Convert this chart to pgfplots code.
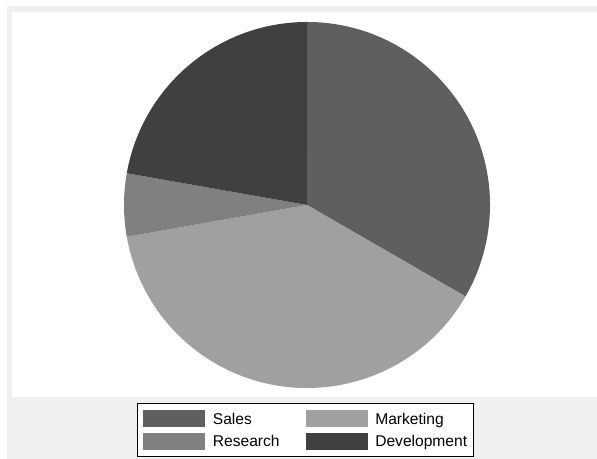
\documentclass[border=0pt]{standalone}
\usepackage{pgfplots}
\pgfplotsset{compat=1.18}
\usepackage{pgfplotstable}
\usepackage{fontspec}
\setmainfont{Liberation Sans}
\definecolor{bgGray}{RGB}{240,240,240}
\definecolor{pie0}{RGB}{95,95,95}
\definecolor{pie1}{RGB}{160,160,160}
\definecolor{pie2}{RGB}{128,128,128}
\definecolor{pie3}{RGB}{64,64,64}

\pgfplotstableread{
label value
Sales 1200
Marketing 1400
Research 200
Development 800
}\piedata

% cumulative angles (clockwise from 12 o'clock)
\xdef\pietotal{0}
\pgfplotstableforeachcolumnelement{value}\of\piedata\as\v{%
  \pgfmathsetmacro\tmp{\pietotal+\v}\xdef\pietotal{\tmp}}
\xdef\cum{90}
\foreach \i in {0,...,3}{%
  \pgfplotstablegetelem{\i}{value}\of\piedata
  \pgfmathsetmacro\e{\cum-\pgfplotsretval/\pietotal*360}%
  \expandafter\xdef\csname ps\i\endcsname{\cum}%
  \expandafter\xdef\csname pe\i\endcsname{\e}%
  \xdef\cum{\e}%
}

\begin{document}
\begin{tikzpicture}[x=1bp,y=1bp]
\fill[white] (0,0) rectangle (597,459);
\fill[bgGray] (7,0) rectangle (597,453);
\fill[white] (12,62) rectangle (597,447);
\begin{axis}[
  at={(307bp,254bp)}, anchor=center,
  scale only axis, width=366bp, height=366bp,
  xmin=-1, xmax=1, ymin=-1, ymax=1,
  hide axis, clip=false,
  legend columns=2,
  legend style={
    at={(0.0355,-0.041)}, anchor=north west,
    draw=black, line width=0.6bp, fill=white,
    inner xsep=6bp, inner ysep=7bp,
    font=\fontsize{15.6bp}{18bp}\selectfont,
    nodes={inner sep=0pt, text depth=0pt},
    cells={anchor=west},
    column sep=8bp, row sep=6bp,
    /tikz/column 2/.style={column sep=26bp},
  },
]
\pgfplotsinvokeforeach{0,...,3}{%
  \fill[pie#1] (axis cs:0,0) -- ++(\csname ps#1\endcsname:183bp)
    arc[start angle=\csname ps#1\endcsname, end angle=\csname pe#1\endcsname, radius=183bp] -- cycle;
}
\addlegendimage{legend image code/.code={\fill[pie0] (0bp,-8bp) rectangle (61bp,8bp);}}
\addlegendentry{Sales}
\addlegendimage{legend image code/.code={\fill[pie1] (0bp,-8bp) rectangle (61bp,8bp);}}
\addlegendentry{Marketing}
\addlegendimage{legend image code/.code={\fill[pie2] (0bp,-8bp) rectangle (61bp,8bp);}}
\addlegendentry{Research}
\addlegendimage{legend image code/.code={\fill[pie3] (0bp,-8bp) rectangle (61bp,8bp);}}
\addlegendentry{Development\hspace{4bp}}
\end{axis}
\end{tikzpicture}
\end{document}
